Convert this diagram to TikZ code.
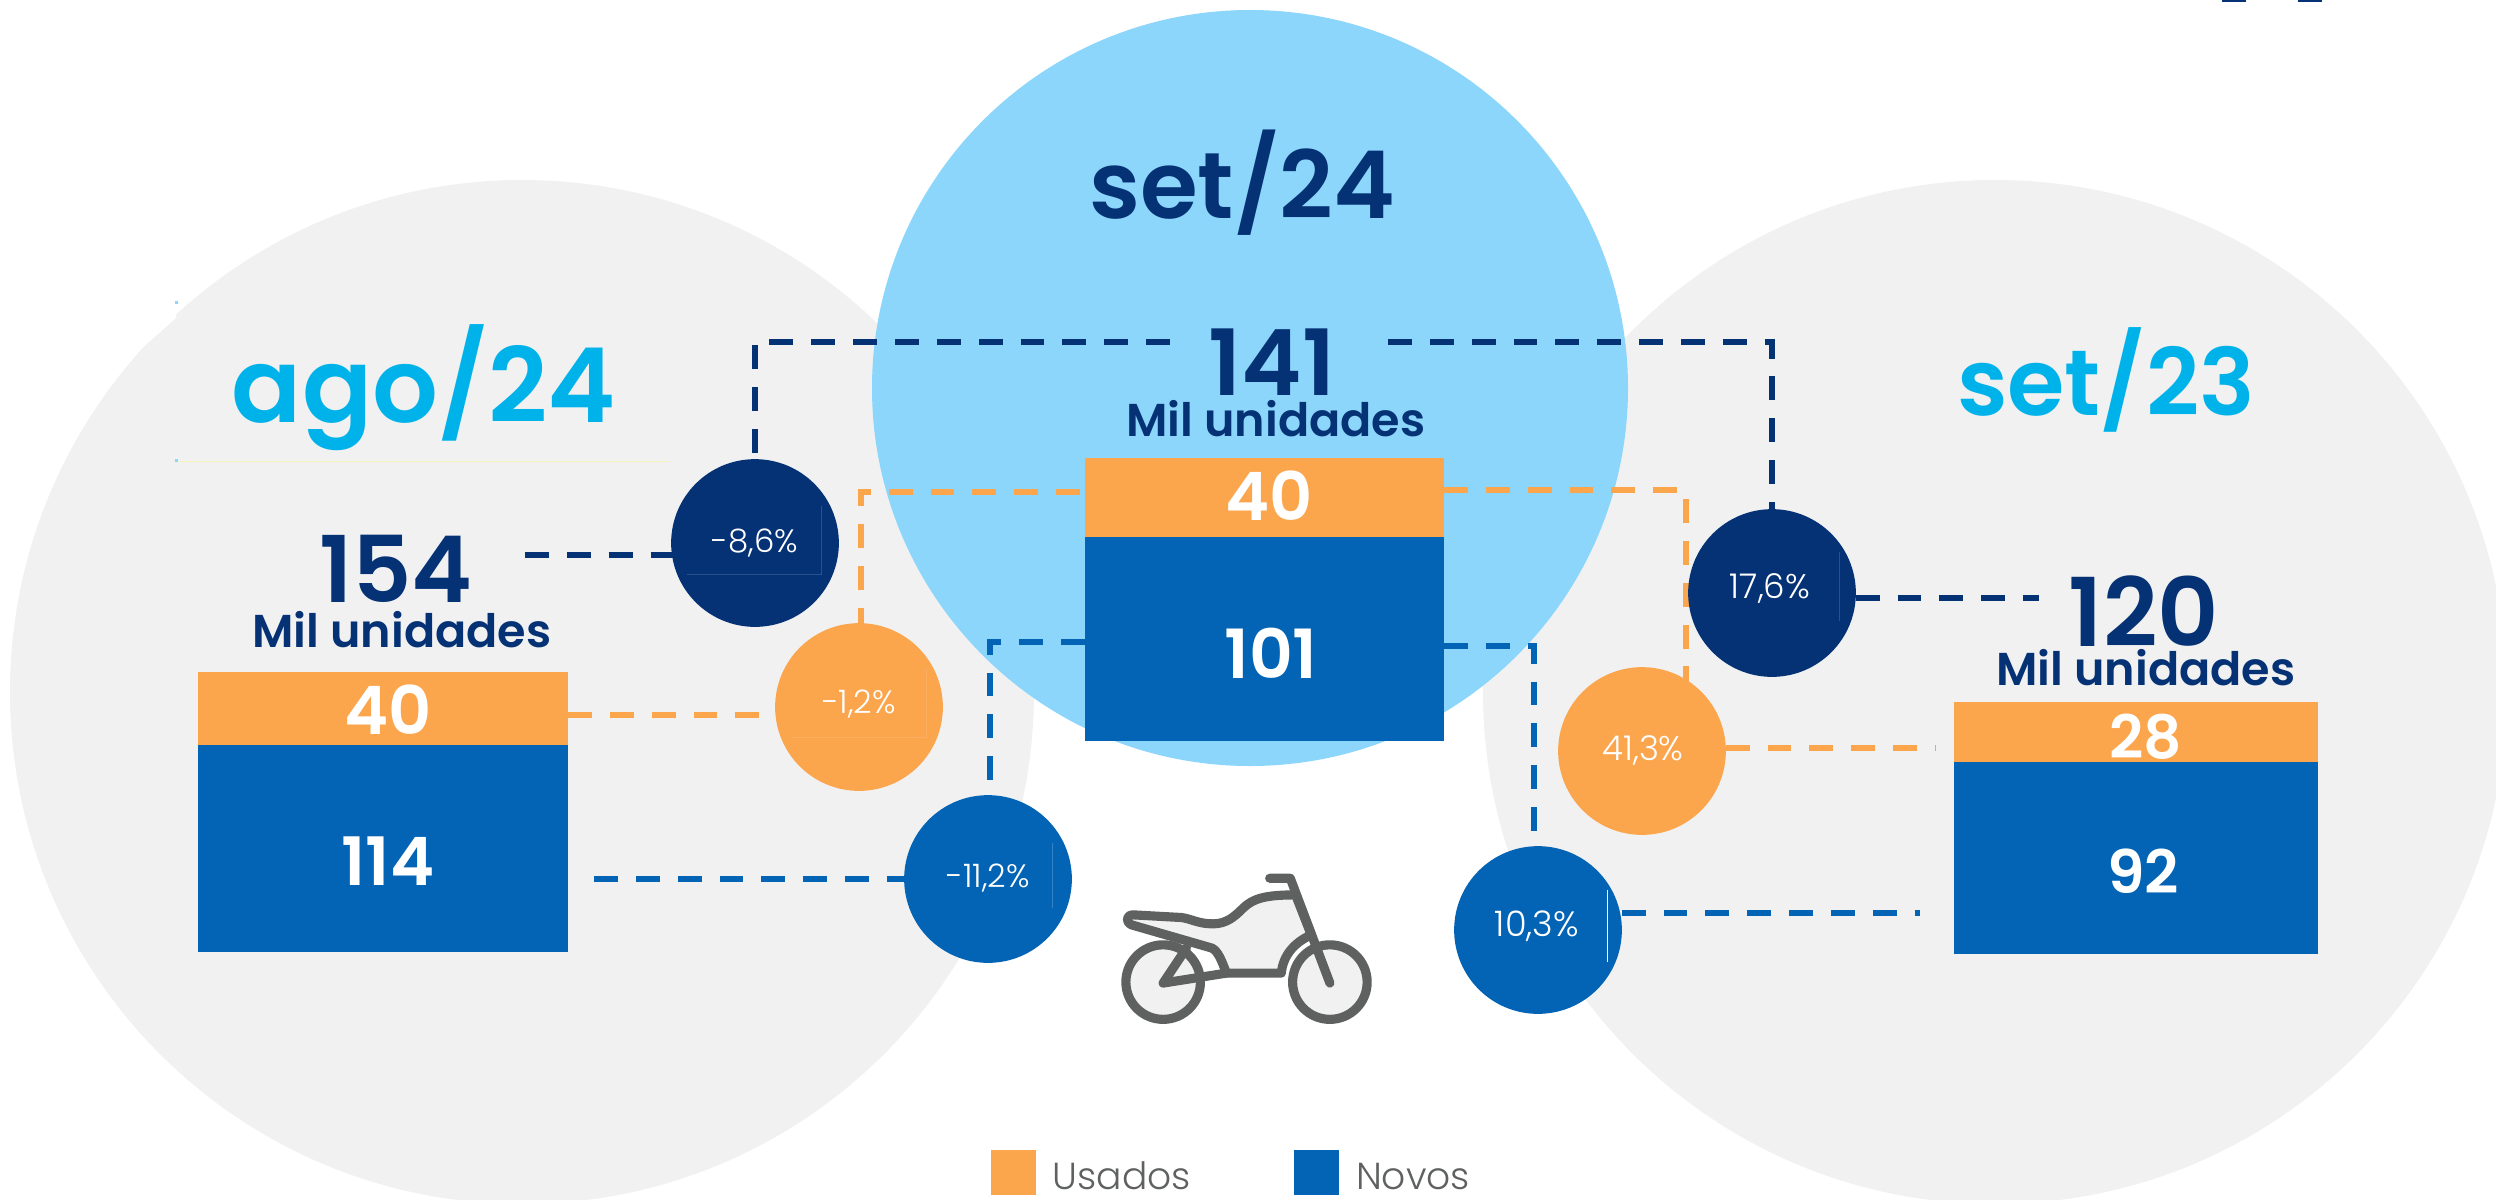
\documentclass[tikz,border=0pt]{standalone}
\usepackage{fontspec}
\setmainfont{Poppins}
\newfontfamily\plight{Poppins Light}
\newfontfamily\psemi{Poppins SemiBold}
\definecolor{gbg}{HTML}{F1F1F1}
\definecolor{sky}{HTML}{8DD6FB}
\definecolor{org}{HTML}{FBA54D}
\definecolor{blu}{HTML}{0364B5}
\definecolor{nav}{HTML}{053275}
\definecolor{cya}{HTML}{00B2EA}
\definecolor{gry}{HTML}{5F6161}
\tikzset{
 x=0.01cm,y=-0.01cm,
 dl/.style={line width=1.7pt,dash pattern=on 6.8pt off 5.1pt},
 bub/.style={circle,minimum size=168*0.2839pt,inner sep=0pt},
 pct/.style={anchor=base,inner sep=0pt,text=white,font=\plight\fontsize{#1}{10}\selectfont},
 bar/.style={inner sep=0pt,minimum width=#1*0.2839pt},
 ttl/.style={anchor=base,inner sep=0pt,font=\psemi\fontsize{#1}{#1}\selectfont},
 val/.style={anchor=base,inner sep=0pt,text=white,font=\psemi\fontsize{#1}{#1}\selectfont},
 lbl/.style={anchor=base,inner sep=0pt,text=gry,font=\plight\fontsize{10.7}{12}\selectfont},
 fain/.style={line width=0.25pt},
 moto/.style={draw=gry,line width=2.6pt,line cap=round,line join=round}
}
\begin{document}
\begin{tikzpicture}
\useasboundingbox (0,0) rectangle (2496,1199);
\fill[white] (0,0) rectangle (2496,1199);
% background discs
\begin{scope}
\clip (0,0) rectangle (2496,1199);
\fill[gbg] (522,692) circle[radius=512];
\fill[gbg] (1995,692) circle[radius=512];
\end{scope}
\fill[sky] (1250,388) circle[radius=378];
% faint marks
\fill[white] (140,250) -- (176,303) -- (176,318) -- (140,350) -- cycle;
\fill[sky] (175,301) rectangle (178,304);
\fill[sky] (175,459) rectangle (178,462);
\draw[yellow!25!gbg,fain] (178,461) -- (670,461);
\fill[nav] (2222,0) rectangle (2246,2);
\fill[nav] (2298,0) rectangle (2322,2);
% bars
\node[bar=371,minimum height=73*0.2839pt,fill=org,anchor=north west] (b1o) at (197,671) {};
\node[bar=371,minimum height=208*0.2839pt,fill=blu,anchor=north west] (b1b) at (197,744) {};
\node[bar=360,minimum height=79*0.2839pt,fill=org,anchor=north west] (b2o) at (1084,457) {};
\node[bar=360,minimum height=205*0.2839pt,fill=blu,anchor=north west] (b2b) at (1084,536) {};
\node[bar=365,minimum height=60*0.2839pt,fill=org,anchor=north west] (b3o) at (1953,701) {};
\node[bar=365,minimum height=193*0.2839pt,fill=blu,anchor=north west] (b3b) at (1953,761) {};
% free ends
\coordinate (t141w) at (1170,342);
\coordinate (t141e) at (1388,342);
\coordinate (t154e) at (525,555);
\coordinate (t120w) at (2039,598);
\coordinate (o1s) at (568,715);
\coordinate (b1s) at (594,879);
\coordinate (o3s) at (1935,748);
\coordinate (b3s) at (1920,913);
\coordinate (oLe) at (1080,492);
\coordinate (bLe) at (1085,642);
\coordinate (oRs) at (1444,490);
\coordinate (bRs) at (1444,646);
% bubbles (positions first, drawn after connectors)
\path (755,543) coordinate (c1) (859,707) coordinate (c2) (988,879) coordinate (c3)
      (1772,593) coordinate (c4) (1642,751) coordinate (c5) (1538,930) coordinate (c6);
% connectors
\draw[nav,dl] (t141w) -| (c1);
\draw[nav,dl] (t141e) -| (c4);
\draw[nav,dl] (t154e) -- (t154e -| c1);
\draw[nav,dl] (c4 |- t120w) -- (t120w);
\draw[org,dl] (o1s) -- (o1s -| c2);
\draw[org,dl] (oLe) -| (861,707);
\draw[blu,dl] (b1s) -- (c3 |- b1s);
\draw[blu,dl] (bLe) -| (990,879);
\draw[org,dl] (oRs) -| (1686,700);
\draw[org,dl] (c5 |- o3s) -- (o3s);
\draw[blu,dl] (bRs) -| (1534,930);
\draw[blu,dl] (c6 |- b3s) -- (b3s);
% bubbles
\node[bub,fill=nav] (n1) at (c1) {};
\node[bub,fill=org] (n2) at (c2) {};
\node[bub,fill=blu] (n3) at (c3) {};
\node[bub,fill=nav] (n4) at (c4) {};
\node[bub,fill=org] (n5) at (c5) {};
\node[bub,fill=blu] (n6) at (c6) {};
\draw[nav!85!white,fain] (687,574) -- (821,574) -- (821,506);
\draw[org!90!white,fain] (792,737) -- (926,737) -- (926,668);
\draw[blu!80!white,fain] (1052,843) -- (1052,908);
\draw[nav!85!white,fain] (1839,552) -- (1839,621);
\draw[white,fain] (1607,890) -- (1607,962);
\node[pct=9.2] (p1) at (755,552) {-8,6\%};
\node[pct=9.2] (p2) at (859,713) {-1,2\%};
\node[pct=9.2] (p3) at (988,887) {-11,2\%};
\node[pct=9.7] (p4) at (1770,598) {17,6\%};
\node[pct=9.7] (p5) at (1643,760) {41,3\%};
\node[pct=10] (p6) at (1537,936) {10,3\%};
% titles
\node[ttl=26.6,text=nav] (s24) at (1242,218) {set/24};
\node[ttl=29.4,text=cya] (a24) at (424,422) {ago/24};
\node[ttl=26.4,text=cya] (s23) at (2106,415) {set/23};
\node[ttl=26,text=nav] (n141) at (1272,395) {141};
\node[ttl=26.2,text=nav] (n154) at (396,602) {154};
\node[ttl=27,text=nav] (n120) at (2144,646) {120};
\node[ttl=13.1,text=nav] (m1) at (402,647) {Mil unidades};
\node[ttl=13.1,text=nav] (m2) at (1276,436) {Mil unidades};
\node[ttl=13.1,text=nav] (m3) at (2146,685) {Mil unidades};
\node[val=19] (v1) at (388,734) {40};
\node[val=19] (v2) at (388,885) {114};
\node[val=19] (v3) at (1269,520) {40};
\node[val=19.3] (v4) at (1271,678) {101};
\node[val=17] (v5) at (2146,758) {28};
\node[val=17] (v6) at (2143,893) {92};
% legend
\node[fill=org,minimum size=45*0.2839pt,inner sep=0pt,anchor=north west] (lo) at (990,1149) {};
\node[fill=blu,minimum size=45*0.2839pt,inner sep=0pt,anchor=north west] (lb) at (1293,1149) {};
\node[lbl] (lt1) at (1122,1189) {Usados};
\node[lbl] (lt2) at (1413,1189) {Novos};
% motorcycle
\begin{scope}[shift={(1050,820)},x=0.003333cm,y=-0.003333cm]
\filldraw[moto,fill=gbg] (340,487) circle[radius=112];
\filldraw[moto,fill=gbg] (841,487) circle[radius=112];
\filldraw[moto,fill=gbg] (250,285) -- (395,293) .. controls (425,297) and (445,312) .. (490,312)
  .. controls (530,312) and (555,290) .. (580,265) .. controls (610,235) and (650,225) .. (738,225)
  -- (785,345) .. controls (730,370) and (700,410) .. (695,460) -- (530,460)
  .. controls (515,420) and (505,395) .. (487,385) -- (245,315) .. controls (225,305) and (230,285) .. (250,285) -- cycle;
\draw[moto] (660,175) -- (722,175) -- (841,490);
\draw[moto] (530,460) -- (340,490) -- (410,385);
\end{scope}
\end{tikzpicture}
\end{document}
